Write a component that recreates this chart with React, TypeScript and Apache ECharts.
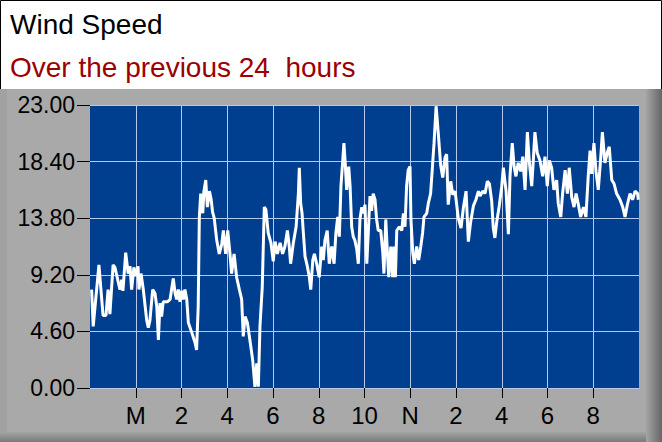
import React, { useEffect, useRef } from 'react';
import * as echarts from 'echarts';

// hours since 22:00 of the previous day
const hours = [
  0.07, 0.14, 0.39, 0.57, 0.70, 0.79, 0.87, 1.01, 1.09, 1.31, 1.39, 1.44, 1.56, 1.67, 1.75, 1.82,
  1.92, 2.01, 2.10, 2.14, 2.23, 2.33, 2.48, 2.55, 2.62, 2.74, 2.84, 2.92, 2.99, 3.06, 3.13, 3.20,
  3.38, 3.50, 3.64, 3.72, 3.79, 3.86, 3.93, 4.01, 4.08, 4.15, 4.23, 4.30, 4.45, 4.59, 4.66, 4.73,
  4.78, 4.84, 4.93, 4.98, 5.06, 5.13, 5.22, 5.29, 5.36, 5.43, 5.54, 5.65, 5.76, 5.83, 5.93, 6.02,
  6.12, 6.19, 6.30, 6.41, 6.53, 6.63, 6.70, 6.78, 6.88, 6.99, 7.11, 7.21, 7.29, 7.36, 7.43, 7.53,
  7.62, 7.69, 7.79, 7.91, 8.01, 8.09, 8.19, 8.31, 8.42, 8.52, 8.63, 8.71, 8.77, 8.89, 9.01, 9.11,
  9.15, 9.21, 9.27, 9.32, 9.40, 9.50, 9.59, 9.65, 9.74, 9.81, 9.91, 10.02, 10.13, 10.20, 10.27, 10.37,
  10.46, 10.57, 10.67, 10.75, 10.83, 10.90, 10.97, 11.05, 11.10, 11.16, 11.22, 11.31, 11.37, 11.44, 11.51, 11.58,
  11.66, 11.73, 11.80, 11.88, 11.95, 12.02, 12.10, 12.17, 12.24, 12.31, 12.38, 12.46, 12.53, 12.60, 12.71, 12.80,
  12.85, 12.93, 13.00, 13.06, 13.15, 13.23, 13.29, 13.35, 13.41, 13.52, 13.63, 13.70, 13.77, 13.84, 13.91, 13.99,
  14.03, 14.11, 14.18, 14.28, 14.37, 14.46, 14.54, 14.60, 14.72, 14.79, 14.89, 14.96, 15.04, 15.13, 15.23, 15.33,
  15.42, 15.52, 15.59, 15.66, 15.77, 15.86, 15.96, 16.10, 16.22, 16.32, 16.44, 16.54, 16.64, 16.76, 16.87, 16.98,
  17.05, 17.17, 17.27, 17.37, 17.46, 17.56, 17.63, 17.70, 17.78, 17.89, 18.00, 18.07, 18.19, 18.29, 18.36, 18.46,
  18.54, 18.62, 18.72, 18.83, 18.92, 19.02, 19.12, 19.20, 19.31, 19.38, 19.45, 19.55, 19.67, 19.79, 19.89, 19.99,
  20.08, 20.18, 20.28, 20.40, 20.47, 20.58, 20.66, 20.77, 20.87, 20.95, 21.06, 21.16, 21.25, 21.35, 21.45, 21.57,
  21.68, 21.78, 21.86, 21.93, 22.03, 22.12, 22.22, 22.33, 22.40, 22.51, 22.61, 22.70, 22.81, 22.91, 23.02, 23.17,
  23.29, 23.39, 23.49, 23.61, 23.72, 23.83, 23.94, 23.97
];

const speed = [
  8.0, 5.0, 10.0, 5.9, 5.9, 8.0, 6.0, 10.0, 9.8, 8.0, 8.8, 7.9, 11.0, 9.3, 9.9, 8.0,
  9.8, 9.1, 9.9, 8.0, 9.3, 8.0, 5.5, 4.9, 5.5, 8.0, 7.7, 6.6, 3.9, 6.9, 5.8, 7.0,
  7.0, 7.2, 8.9, 7.7, 7.2, 8.0, 7.0, 7.9, 7.2, 8.0, 7.2, 5.3, 4.5, 3.7, 3.1, 6.6,
  13.9, 15.8, 14.2, 16.0, 16.9, 14.7, 16.0, 15.4, 14.3, 13.8, 12.0, 10.9, 11.7, 12.8, 10.9, 12.8,
  10.9, 9.3, 10.9, 9.0, 8.0, 7.2, 4.2, 5.8, 5.3, 3.9, 2.3, 0.1, 2.0, 0.1, 5.0, 8.2,
  14.7, 14.5, 12.6, 11.8, 10.3, 11.9, 10.9, 11.8, 10.9, 11.5, 12.8, 11.5, 10.1, 11.8, 13.1, 15.8,
  17.9, 15.0, 14.2, 12.8, 10.7, 9.9, 9.0, 8.0, 10.4, 10.9, 10.1, 9.0, 11.5, 10.4, 12.0, 12.8,
  10.1, 11.5, 10.1, 12.6, 13.9, 12.3, 16.4, 18.5, 19.9, 18.2, 16.1, 18.0, 16.4, 13.1, 12.3, 12.0,
  11.3, 10.1, 13.7, 14.7, 14.2, 14.9, 10.1, 12.8, 15.6, 14.4, 15.8, 15.3, 13.7, 12.8, 12.8, 11.0,
  9.3, 13.7, 11.0, 9.0, 11.5, 9.0, 11.5, 9.0, 12.8, 13.1, 12.8, 14.2, 13.1, 16.4, 17.7, 18.0,
  13.7, 11.0, 10.1, 11.5, 10.4, 11.5, 12.6, 13.9, 14.2, 15.0, 15.8, 17.7, 19.9, 22.9, 20.6, 18.1,
  17.1, 18.7, 19.0, 14.9, 16.8, 15.7, 16.0, 13.8, 13.0, 14.6, 16.0, 11.9, 13.5, 14.8, 15.3, 16.0,
  15.6, 16.0, 15.8, 16.8, 16.6, 15.2, 13.0, 12.2, 13.5, 14.8, 16.4, 17.9, 16.0, 12.5, 17.2, 19.9,
  18.0, 17.2, 18.3, 17.6, 18.8, 16.1, 20.8, 18.5, 16.4, 18.5, 20.8, 19.1, 18.5, 17.2, 18.8, 16.4,
  18.5, 17.9, 16.1, 16.9, 15.0, 13.9, 15.8, 17.7, 15.8, 17.9, 15.5, 14.7, 15.8, 14.9, 13.9, 14.7,
  13.9, 17.2, 19.3, 17.4, 19.9, 17.6, 16.1, 18.8, 20.8, 18.3, 19.1, 19.6, 16.9, 16.6, 15.8, 15.3,
  14.7, 13.9, 14.9, 15.8, 15.3, 16.0, 15.8, 15.3
];

const xTickHours = [2, 4, 6, 8, 10, 12, 14, 16, 18, 20, 22];
const xTickLabels = ['M', '2', '4', '6', '8', '10', 'N', '2', '4', '6', '8'];
const yMax = 23;
const yStep = 4.6;

const W = 662;
const H = 442;

const App: React.FC = () => {
  const chartRef = useRef<HTMLDivElement>(null);

  useEffect(() => {
    if (!chartRef.current) return;
    const chart = echarts.init(chartRef.current, null, { renderer: 'svg' });
    const font = '"Liberation Sans", Arial, sans-serif';

    const option: echarts.EChartsOption = {
      animation: false,
      title: [
        {
          text: 'Wind Speed',
          left: 5,
          top: 5,
          textStyle: { fontFamily: font, fontSize: 28, fontWeight: 'normal', color: '#000000' }
        },
        {
          text: 'Over the previous 24  hours',
          left: 5,
          top: 48,
          textStyle: { fontFamily: font, fontSize: 28, fontWeight: 'normal', color: '#9B0000' }
        }
      ],
      graphic: [
        // header
        {
          type: 'rect',
          z: -10,
          shape: { x: 0.5, y: 0.5, width: W - 1, height: 89 },
          style: { fill: '#FFFFFF', stroke: '#000000', lineWidth: 1 }
        },
        // grey frame
        {
          type: 'rect',
          z: -10,
          shape: { x: 0, y: 89, width: W, height: H - 89 },
          style: { fill: '#A9A9A9' }
        },
        {
          type: 'rect',
          z: -9,
          shape: { x: 0, y: 89, width: 7, height: H - 89 },
          style: { fill: '#A1A1A1' }
        },
        {
          type: 'rect',
          z: -9,
          shape: { x: 646, y: 89, width: 16, height: H - 89 },
          style: {
            fill: new echarts.graphic.LinearGradient(0, 0, 1, 0, [
              { offset: 0, color: '#A4A4A4' },
              { offset: 1, color: '#666666' }
            ])
          }
        },
        {
          type: 'rect',
          z: -9,
          shape: { x: 0, y: 432, width: 646, height: 10 },
          style: {
            fill: new echarts.graphic.LinearGradient(0, 0, 0, 1, [
              { offset: 0, color: '#A4A4A4' },
              { offset: 1, color: '#7A7A7A' }
            ])
          }
        }
      ],
      grid: {
        left: 90,
        right: W - 639,
        top: 105,
        bottom: H - 388,
        show: true,
        backgroundColor: '#003F8F',
        borderWidth: 0,
        containLabel: false
      },
      xAxis: {
        type: 'value',
        min: 0,
        max: 24,
        interval: 2,
        axisLine: { show: true, lineStyle: { color: '#B8CAEC', width: 1 } },
        axisTick: {
          show: true,
          length: 10,
          customValues: xTickHours,
          lineStyle: { color: '#000000', width: 1 }
        },
        axisLabel: {
          customValues: xTickHours,
          margin: 15,
          fontFamily: font,
          fontSize: 24,
          color: '#000000',
          formatter: (v: number) => {
            const i = xTickHours.indexOf(v);
            return i >= 0 ? xTickLabels[i] : '';
          }
        },
        splitLine: { show: true, lineStyle: { color: '#B8CAEC', width: 1 } }
      },
      yAxis: {
        type: 'value',
        min: 0,
        max: yMax,
        interval: yStep,
        axisLine: { show: false },
        axisTick: { show: true, length: 13, lineStyle: { color: '#000000', width: 1 } },
        axisLabel: {
          margin: 15,
          fontFamily: font,
          fontSize: 23,
          color: '#000000',
          formatter: (v: number) => v.toFixed(2)
        },
        splitLine: { show: true, lineStyle: { color: '#B8CAEC', width: 1 } }
      },
      series: [
        {
          type: 'line',
          data: hours.map((h, i) => [h, speed[i]]),
          showSymbol: false,
          symbol: 'none',
          smooth: false,
          clip: true,
          lineStyle: { color: '#FFFFFF', width: 3 }
        }
      ]
    };

    chart.setOption(option);
    return () => {
      chart.dispose();
    };
  }, []);

  return (
    <div
      ref={chartRef}
      style={{ position: 'absolute', left: 0, top: 0, width: `${W}px`, height: `${H}px` }}
    />
  );
};

export default App;
